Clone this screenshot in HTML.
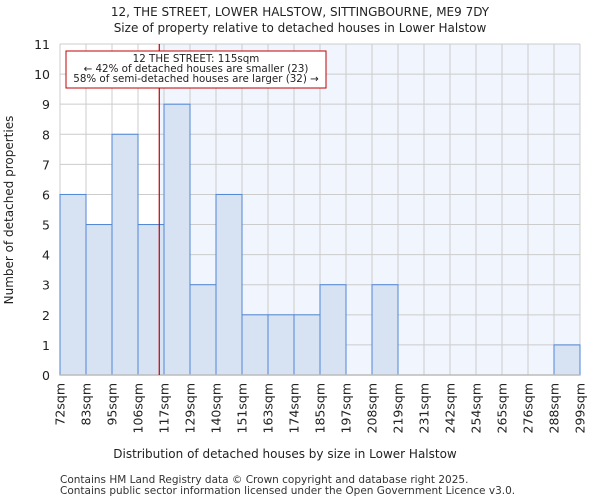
<!DOCTYPE html>
<html><head><meta charset="utf-8"><style>
body{margin:0;background:#fff;}
svg{display:block;font-family:"DejaVu Sans","Liberation Sans",sans-serif;}
</style></head><body>
<svg id="c" width="600" height="500" viewBox="0 0 600 500" xmlns="http://www.w3.org/2000/svg">
<text x="300" y="16" text-anchor="middle" font-size="12" fill="#222">12, THE STREET, LOWER HALSTOW, SITTINGBOURNE, ME9 7DY</text>
<text x="300" y="32" text-anchor="middle" font-size="12" fill="#222">Size of property relative to detached houses in Lower Halstow</text>
<g id="plot"></g>
<text x="285" y="458" text-anchor="middle" font-size="12" fill="#222">Distribution of detached houses by size in Lower Halstow</text>
<text transform="translate(13,210) rotate(-90)" text-anchor="middle" font-size="12" fill="#222">Number of detached properties</text>
<text x="60" y="483" font-size="10.5" fill="#333">Contains HM Land Registry data © Crown copyright and database right 2025.</text>
<text x="60" y="494" font-size="10.5" fill="#333">Contains public sector information licensed under the Open Government Licence v3.0.</text>
</svg>
<script>
const binLabels=["72sqm","83sqm","95sqm","106sqm","117sqm","129sqm","140sqm","151sqm","163sqm","174sqm","185sqm","197sqm","208sqm","219sqm","231sqm","242sqm","254sqm","265sqm","276sqm","288sqm","299sqm"];
const binEdges=[72,83,95,106,117,129,140,151,163,174,185,197,208,219,231,242,254,265,276,288,299];
const counts=[6,5,8,5,9,3,6,2,2,2,3,0,3,0,0,0,0,0,0,1];
const yTicks=[0,1,2,3,4,5,6,7,8,9,10,11];
const marker=115;
const NS="http://www.w3.org/2000/svg";
const X0=60,X1=580,Y0=375,Y1=44,YMAX=11;
const nb=counts.length;
function xi(i){return X0+(X1-X0)*i/nb;}
function xv(v){let i=0;while(i<binEdges.length-2&&v>binEdges[i+1])i++;return xi(i+(v-binEdges[i])/(binEdges[i+1]-binEdges[i]));}
function y(v){return Y0-(Y0-Y1)*v/YMAX;}
const g=document.getElementById('plot');
function mk(t,a){const e=document.createElementNS(NS,t);for(const k in a)e.setAttribute(k,a[k]);g.appendChild(e);return e;}
const mx=xv(marker);
let r=mk('rect',{x:X0,y:Y1,width:mx-X0,height:Y0-Y1,fill:'#ffffff'});


r=mk('rect',{x:mx,y:Y1,width:X1-mx,height:Y0-Y1,fill:'#f1f5fd'});


yTicks.forEach(t=>{
 const l=mk('line',{x1:X0,x2:X1,y1:y(t),y2:y(t),stroke:'#cccccc','stroke-width':1});
 
 
 const tx=mk('text',{x:50,y:y(t)+5,'text-anchor':'end','font-size':12.5,fill:'#222'});
 tx.textContent=t;
 
 
});
for(let i=0;i<=nb;i++){
 const l=mk('line',{x1:xi(i),x2:xi(i),y1:Y1,y2:Y0,stroke:'#cccccc','stroke-width':1});
 
 
}
counts.forEach((c,i)=>{
 if(c<=0)return;
 const b=mk('rect',{x:xi(i),y:y(c),width:xi(i+1)-xi(i),height:Y0-y(c),fill:'#d7e2f3',stroke:'#4f86d4','stroke-width':1});
 
 
});
binLabels.forEach((lb,i)=>{
 const tx=mk('text',{transform:`translate(${xi(i)+4.5},${Y0+8}) rotate(-90)`,'text-anchor':'end','font-size':12.5,fill:'#222'});
 tx.textContent=lb;
 
 
});
let ax=mk('line',{x1:X0,x2:X1,y1:Y0,y2:Y0,stroke:'#bbbbbb','stroke-width':1.5});


let ml=mk('line',{x1:mx,x2:mx,y1:Y1,y2:Y0,stroke:'#c00000','stroke-width':1.2});


let box=mk('rect',{x:66,y:51,width:260,height:37,fill:'#fff',stroke:'#c00000','stroke-width':1});


["12 THE STREET: 115sqm","← 42% of detached houses are smaller (23)","58% of semi-detached houses are larger (32) →"].forEach((s,i)=>{
 const tx=mk('text',{x:196,y:62+i*10,'text-anchor':'middle','font-size':10.3,fill:'#222'});
 tx.textContent=s;
 
 
});
</script>
</body></html>
